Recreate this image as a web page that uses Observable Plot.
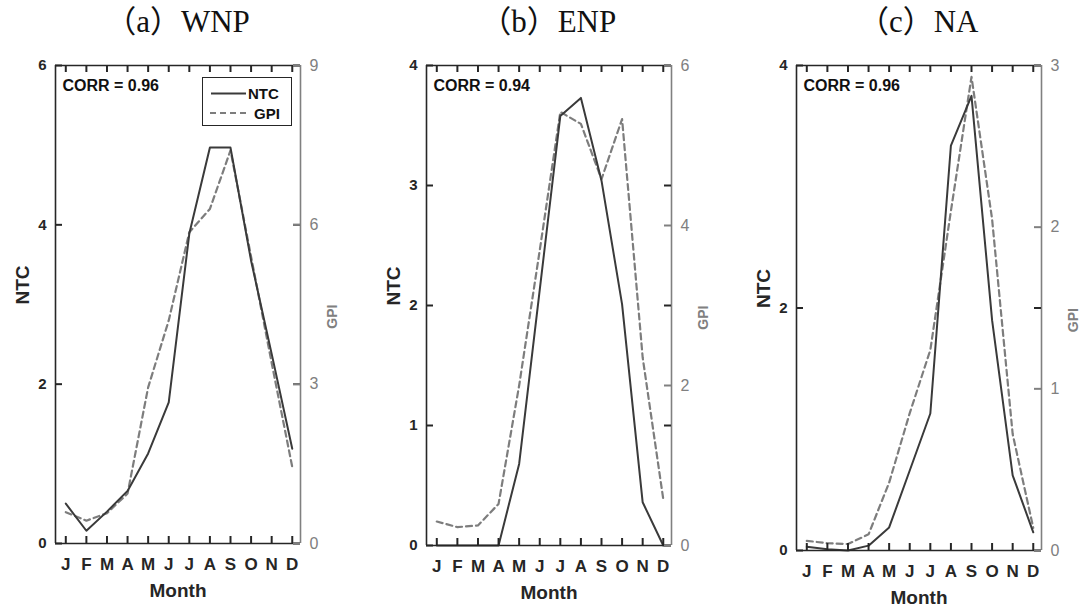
<!DOCTYPE html>
<html><head><meta charset="utf-8">
<script src="https://cdn.jsdelivr.net/npm/d3@7"></script>
<script src="https://cdn.jsdelivr.net/npm/@observablehq/plot@0.6"></script>
<style>
body{margin:0;background:#fff;}
#wrap{position:relative;width:1090px;height:609px;overflow:hidden;background:#fff;}
.panel{position:absolute;top:0;width:370px;height:609px;}
.title{position:absolute;top:0;height:44px;line-height:44px;text-align:center;white-space:nowrap;
  font-family:"Liberation Serif","Noto Sans CJK JP",serif;font-size:31px;color:#111;}
.legend{position:absolute;background:#fff;border:1.5px solid #262626;box-sizing:border-box;}
</style>
</head><body>
<div id="wrap"></div>
<script>
// ---- data ----
const monthNum = [1, 2, 3, 4, 5, 6, 7, 8, 9, 10, 11, 12];
const monthLabels = ["J", "F", "M", "A", "M", "J", "J", "A", "S", "O", "N", "D"];
const panelTitles = ["（a）WNP", "（b）ENP", "（c）NA"];
const corrValues = [0.96, 0.94, 0.96];

const ntcWNP = [0.50, 0.16, 0.40, 0.66, 1.13, 1.77, 3.89, 4.97, 4.97, 3.55, 2.38, 1.19];
const gpiWNP = [0.59, 0.43, 0.57, 0.94, 2.94, 4.20, 5.86, 6.30, 7.40, 5.40, 3.40, 1.44];

const ntcENP = [0, 0, 0, 0, 0.68, 2.13, 3.58, 3.73, 3.04, 2.01, 0.36, 0];
const gpiENP = [0.30, 0.23, 0.25, 0.52, 2.00, 3.69, 5.42, 5.27, 4.58, 5.33, 2.35, 0.58];

const ntcNA = [0.03, 0.01, 0.0, 0.04, 0.19, 0.66, 1.13, 3.34, 3.75, 1.90, 0.62, 0.15];
const gpiNA = [0.06, 0.045, 0.04, 0.10, 0.42, 0.85, 1.24, 2.10, 2.93, 2.05, 0.72, 0.14];

const ntcTicksWNP = [0, 2, 4, 6], gpiTicksWNP = [0, 3, 6, 9];
const ntcTicksENP = [0, 1, 2, 3, 4], gpiTicksENP = [0, 2, 4, 6];
const ntcTicksNA = [0, 2, 4], gpiTicksNA = [0, 1, 2, 3];

const legendLabels = ["NTC", "GPI"];

// ---- style ----
const NTCC = "#3a3a3a", GPIC = "#7d7d7d", AXL = "#262626", AXR = "#808080";
const FONT = "Liberation Sans, Arial, sans-serif";

const panels = [
  {ntc: ntcWNP, gpi: gpiWNP, nT: ntcTicksWNP, gT: gpiTicksWNP, left: 0, mb: 66},
  {ntc: ntcENP, gpi: gpiENP, nT: ntcTicksENP, gT: gpiTicksENP, left: 370.7, mb: 64},
  {ntc: ntcNA, gpi: gpiNA, nT: ntcTicksNA, gT: gpiTicksNA, left: 740.7, mb: 59}
];

const W = 370, H = 609, ML = 55, MR = 70, MT = 65, TS = 7;
const FW = W - ML - MR;
const xDomain = [0.5, 12.4];
const wrap = document.getElementById("wrap");

panels.forEach((p, i) => {
  const nMax = p.nT[p.nT.length - 1], gMax = p.gT[p.gT.length - 1];
  const k = nMax / gMax;
  const FH = H - MT - p.mb;
  const data = monthNum.map((m, j) => ({m, ntc: p.ntc[j], gpi: p.gpi[j]}));
  const gpiPos = p.gT.map(v => v * k);
  // tick length converted to data units of each scale
  const tx = TS * (xDomain[1] - xDomain[0]) / FW;
  const ty = TS * nMax / FH;
  const x0 = xDomain[0], x1 = xDomain[1];
  const bottomT = monthNum.map(m => ({x: m, y1: 0, y2: ty}));
  const topT = monthNum.map(m => ({x: m, y1: nMax - ty, y2: nMax}));
  const leftT = p.nT.map(v => ({y: v, x1: x0, x2: x0 + tx}));
  const rightT = p.nT.map(v => ({y: v, x1: x1 - tx, x2: x1}));
  const gpiT = gpiPos.map(v => ({y: v, x1: x1 - tx, x2: x1}));

  const chart = Plot.plot({
    width: W, height: H,
    marginLeft: ML, marginRight: MR, marginTop: MT, marginBottom: p.mb,
    style: {fontFamily: FONT, background: "white", overflow: "visible"},
    x: {domain: xDomain, axis: null, label: null},
    y: {domain: [0, nMax], axis: null, label: null},
    marks: [
      Plot.lineY(data, {x: "m", y: d => d.gpi * k, stroke: GPIC, strokeWidth: 2.2, strokeDasharray: "6,4"}),
      Plot.lineY(data, {x: "m", y: "ntc", stroke: NTCC, strokeWidth: 2}),
      // frame
      Plot.ruleY([0], {stroke: AXL, strokeWidth: 1.6}),
      Plot.ruleY([nMax], {stroke: AXL, strokeWidth: 1.6}),
      Plot.ruleX([x0], {stroke: AXL, strokeWidth: 1.6}),
      Plot.ruleX([x1], {stroke: AXR, strokeWidth: 1.6}),
      // inward ticks
      Plot.ruleX(bottomT, {x: "x", y1: "y1", y2: "y2", stroke: AXL, strokeWidth: 2}),
      Plot.ruleX(topT, {x: "x", y1: "y1", y2: "y2", stroke: AXL, strokeWidth: 2}),
      Plot.ruleY(leftT, {y: "y", x1: "x1", x2: "x2", stroke: AXL, strokeWidth: 2}),
      Plot.ruleY(rightT, {y: "y", x1: "x1", x2: "x2", stroke: AXL, strokeWidth: 2}),
      Plot.ruleY(gpiT, {y: "y", x1: "x1", x2: "x2", stroke: AXR, strokeWidth: 2}),
      // tick labels
      Plot.axisX({anchor: "bottom", ticks: monthNum, tickSize: 0, tickPadding: 14, tickFormat: d => monthLabels[d - 1],
        fill: AXL, fontSize: 17, fontWeight: "bold", label: null}),
      Plot.axisY({anchor: "left", ticks: p.nT, tickSize: 0, tickPadding: 9, tickFormat: d => d3.format("d")(d),
        fill: AXL, fontSize: 15, fontWeight: "bold", label: null}),
      Plot.axisY({anchor: "right", ticks: gpiPos, tickSize: 0, tickPadding: 9,
        tickFormat: d => d3.format("d")(Math.round(d / k)), fill: AXR, fontSize: 16, label: null}),
      // axis titles
      Plot.text(["NTC"], {frameAnchor: "left", dx: -33, rotate: -90, fontSize: 19, fontWeight: "bold", fill: AXL}),
      Plot.text(["GPI"], {frameAnchor: "right", dx: 32, rotate: -90, fontSize: 14, fontWeight: "bold", fill: AXR}),
      Plot.text(["Month"], {frameAnchor: "bottom", dy: 47, lineAnchor: "middle", fontSize: 19, fontWeight: "bold", fill: AXL}),
      Plot.text([`CORR = ${corrValues[i].toFixed(2)}`], {frameAnchor: "top-left", dx: 7, dy: 20, lineAnchor: "middle",
        textAnchor: "start", fontSize: 16, fontWeight: "bold", fill: "#111"})
    ]
  });

  const div = document.createElement("div");
  div.className = "panel";
  div.style.left = p.left + "px";
  chart.style.position = "absolute";
  chart.style.left = "0px";
  chart.style.top = "0px";
  div.appendChild(chart);

  const t = document.createElement("div");
  t.className = "title";
  t.style.left = ML + "px";
  t.style.width = FW + "px";
  t.textContent = panelTitles[i];
  div.appendChild(t);

  wrap.appendChild(div);
});

// legend (panel a)
const lg = document.createElement("div");
lg.className = "legend";
lg.style.left = "202px"; lg.style.top = "77px"; lg.style.width = "90px"; lg.style.height = "49px";
lg.innerHTML = `<svg width="88" height="47" style="display:block;font-family:${FONT}">
  <line x1="8" x2="43" y1="15.5" y2="15.5" stroke="${NTCC}" stroke-width="2"/>
  <text x="45" y="15.5" dominant-baseline="central" font-size="15" font-weight="bold" fill="#111">${legendLabels[0]}</text>
  <line x1="7" x2="46" y1="35" y2="35" stroke="${GPIC}" stroke-width="2.2" stroke-dasharray="6,4"/>
  <text x="51" y="35" dominant-baseline="central" font-size="15" font-weight="bold" fill="#111">${legendLabels[1]}</text>
</svg>`;
wrap.appendChild(lg);
</script>
</body></html>
